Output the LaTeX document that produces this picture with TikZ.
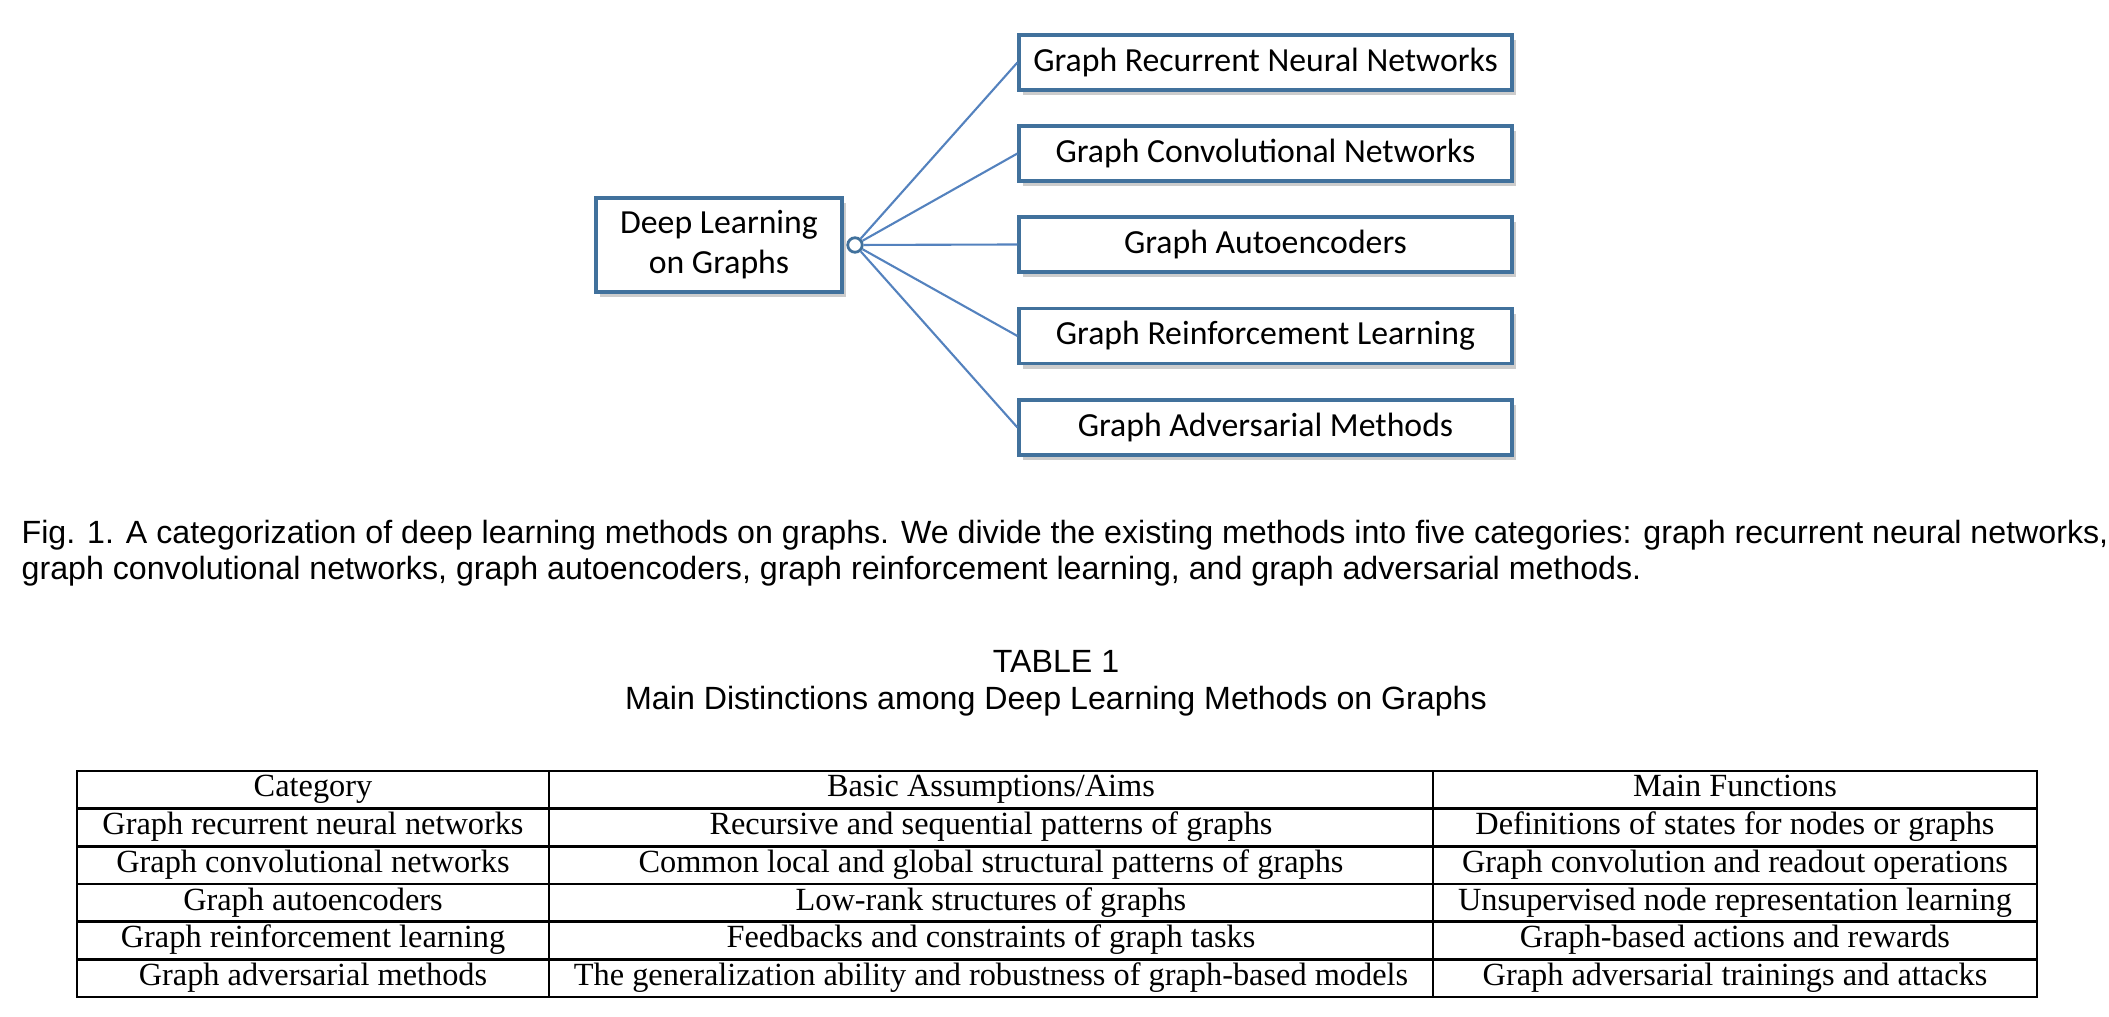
\documentclass[tikz,border=0pt]{standalone}
\usepackage{fontspec}
\setmainfont{Liberation Serif}
\newfontfamily\boxfont{Carlito}
\newfontfamily\capfont{Liberation Sans}
\usetikzlibrary{shadows}
\definecolor{boxblue}{RGB}{65,113,156}
\definecolor{linkblue}{RGB}{84,130,190}

\begin{document}
\begin{tikzpicture}[
    catbox/.style={draw=boxblue, line width=0.9pt, fill=white,
        minimum width=4.93cm, minimum height=0.55cm, inner sep=0pt,
        font=\boxfont\fontsize{9.6}{11.4}\selectfont,
        drop shadow={shadow xshift=1.2pt, shadow yshift=-1.5pt, fill=black!40}},
    rootbox/.style={catbox, minimum width=2.46cm, minimum height=0.94cm, align=center},
    hub/.style={circle, draw=boxblue, line width=0.8pt, fill=white,
        minimum size=0.145cm, inner sep=0pt},
    link/.style={draw=linkblue, line width=0.6pt},
    captext/.style={inner sep=0pt, font=\capfont\fontsize{9.15}{11}\selectfont},
    cell/.style={inner sep=0pt, anchor=base, font=\fontsize{9.2}{11}\selectfont},
    rule/.style={line width=0.7pt}]
  \useasboundingbox (0,0) rectangle (21.09,-10.17);

  % figure 1
  \node[rootbox] (dlg) at (7.19,-2.45) {Deep Learning\\on Graphs};
  \node[hub] (hub) at (8.55,-2.45) {};
  \node[catbox] (grnn) at (12.655,-0.625) {Graph Recurrent Neural Networks};
  \node[catbox] (gcn)  at (12.655,-1.535) {Graph Convolutional Networks};
  \node[catbox] (gae)  at (12.655,-2.445) {Graph Autoencoders};
  \node[catbox] (grl)  at (12.655,-3.36)  {Graph Reinforcement Learning};
  \node[catbox] (gam)  at (12.655,-4.275) {Graph Adversarial Methods};
  \foreach \n in {grnn, gcn, gae, grl, gam}
    \draw[link] (hub) -- (\n.west);

  \node[captext, anchor=base west] (cap1) at (0.21,-5.44) {Fig. 1. A categorization of deep learning methods on graphs. We divide the existing methods into five categories: graph recurrent neural networks,};
  \node[captext, anchor=base west] (cap2) at (0.21,-5.80) {graph convolutional networks, graph autoencoders, graph reinforcement learning, and graph adversarial methods.};

  % table 1
  \node[captext, anchor=base] (tabno) at (10.56,-6.73) {TABLE 1};
  \node[captext, anchor=base] (tabtitle) at (10.56,-7.10) {Main Distinctions among Deep Learning Methods on Graphs};

  \draw[rule] (0.77,-7.71) rectangle (20.37,-9.97);
  \foreach \i in {1,...,5}
    \draw[rule] (0.77,-7.71-0.3767*\i) -- (20.37,-7.71-0.3767*\i);
  \draw[rule] (5.49,-7.71) -- (5.49,-9.97)
              (14.33,-7.71) -- (14.33,-9.97);

  \node[cell] (h1) at (3.13,-7.97)  {Category};
  \node[cell] (h2) at (9.91,-7.97)  {Basic Assumptions/Aims};
  \node[cell] (h3) at (17.35,-7.97) {Main Functions};
  \foreach \a/\b/\c [count=\i] in {
      Graph recurrent neural networks/Recursive and sequential patterns of graphs/Definitions of states for nodes or graphs,
      Graph convolutional networks/Common local and global structural patterns of graphs/Graph convolution and readout operations,
      Graph autoencoders/Low-rank structures of graphs/Unsupervised node representation learning,
      Graph reinforcement learning/Feedbacks and constraints of graph tasks/Graph-based actions and rewards,
      Graph adversarial methods/The generalization ability and robustness of graph-based models/Graph adversarial trainings and attacks}
  {
    \node[cell] (r\i a) at (3.13,-7.97-0.3767*\i)  {\a};
    \node[cell] (r\i b) at (9.91,-7.97-0.3767*\i)  {\b};
    \node[cell] (r\i c) at (17.35,-7.97-0.3767*\i) {\c};
  }
\end{tikzpicture}
\end{document}
